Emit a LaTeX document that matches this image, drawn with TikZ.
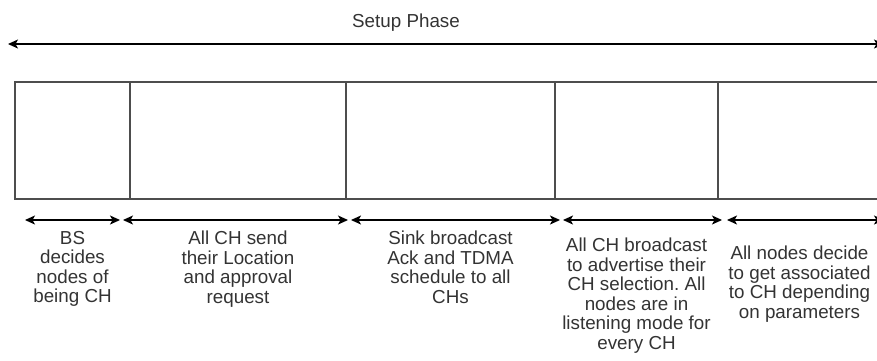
\documentclass[tikz,border=0pt]{standalone}
\usepackage{fontspec}
\setmainfont{Liberation Sans}
\usetikzlibrary{positioning, arrows.meta}
\definecolor{notegray}{HTML}{333333}
\definecolor{boxgray}{HTML}{4D4D4D}
\tikzset{
phase/.style={shape=rectangle, draw=boxgray, line width=1.2pt, minimum height=117pt, inner sep=0, outer sep=0}, note/.style={align=center, text=notegray, inner sep=0, font=\fontsize{18.8}{19.5}\selectfont}, span/.style={{Stealth[length=10pt,width=9pt,inset=2.5pt]}-{Stealth[length=10pt,width=9pt,inset=2.5pt]}, line width=1.3pt}}
\frenchspacing

\begin{document}
\begin{tikzpicture}[x=1pt, y=-1pt]
\useasboundingbox (0,0) rectangle (877,360);
 \node [phase, minimum width=115pt, anchor=north west] (p1) at (15,82) {};
\node [phase, minimum width=216pt, right=0pt of p1] (p2) {};
\node [phase, minimum width=209pt, right=0pt of p2] (p3) {};
\node [phase, minimum width=163pt, right=0pt of p3] (p4) {};
\node [phase, minimum width=163pt, right=0pt of p4] (p5) {};
% whole phase on top
\node [note, anchor=base] (setup) at (406,27) {Setup Phase};
\coordinate (s0) at (8,44);
\coordinate (s1) at (884,44);
\draw [span] (s0) -- (s1);
% one span per step
\coordinate (a0) at (25,220);
\coordinate (a1) at (120,220);
\coordinate (b0) at (123,220);
\coordinate (b1) at (348,220);
\coordinate (c0) at (351,220);
\coordinate (c1) at (560,220);
\coordinate (d0) at (563,220);
\coordinate (d1) at (722,220);
\coordinate (e0) at (727,220);
\coordinate (e1) at (884,220);
\draw [span] (a0) -- (a1);
\draw [span] (b0) -- (b1);
\draw [span] (c0) -- (c1);
\draw [span] (d0) -- (d1);
\draw [span] (e0) -- (e1);
\node [note, below=32pt of p1] (t1) {BS\\decides\\nodes of\\being CH};
\node [note, below=32pt of p2] (t2) {All CH send\\their Location\\and approval\\request};
\node [note, below=32pt of p3] (t3) {Sink broadcast\\Ack and TDMA\\schedule to all\\CHs};
\node [note, below=39pt of p4] (t4) {All CH broadcast\\to advertise their\\CH selection. All\\nodes are in\\listening mode for\\every CH};
\node [note, below=47pt of p5] (t5) {All nodes decide\\to get associated\\to CH depending\\on parameters};
\end{tikzpicture}
\end{document}
